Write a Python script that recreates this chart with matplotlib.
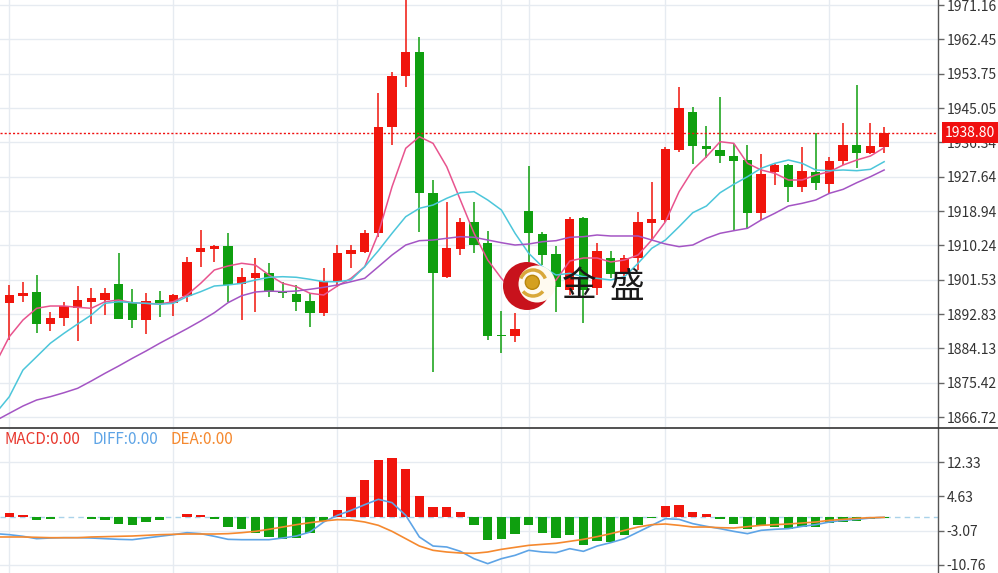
import numpy as np
import matplotlib.pyplot as plt
import matplotlib.transforms as mtransforms
from matplotlib.patches import Circle, Arc
from matplotlib.lines import Line2D

plt.rcParams['font.family'] = ['Noto Sans CJK SC', 'DejaVu Sans']

# K线数据 (第一根只露出一部分)
opens = [1888.78, 1895.70, 1897.47, 1898.41, 1890.22, 1891.74, 1894.43, 1895.95, 1896.38, 1900.44,
         1895.80, 1891.31, 1896.38, 1895.70, 1897.40, 1908.63, 1909.23, 1910.15, 1900.44, 1901.96,
         1903.30, 1898.41, 1897.90, 1896.21, 1893.01, 1901.20, 1908.04, 1908.63, 1913.29, 1940.31,
         1953.16, 1959.17, 1923.58, 1902.14, 1909.23, 1916.23, 1910.75, 1887.51, 1887.33, 1919.02,
         1913.11, 1908.04, 1898.92, 1917.24, 1899.35, 1906.95, 1903.15, 1906.95, 1915.98, 1916.66,
         1934.41, 1944.11, 1935.42, 1934.41, 1932.89, 1931.87, 1918.51, 1928.75, 1930.60, 1924.95,
         1928.91, 1925.79, 1931.69, 1935.67, 1933.57, 1935.24]
highs = [1896.38, 1900.19, 1901.02, 1902.64, 1893.42, 1895.95, 1899.93, 1899.35, 1899.35, 1908.22,
         1899.10, 1898.23, 1898.66, 1897.90, 1907.21, 1914.13, 1910.30, 1913.29, 1904.42, 1907.10,
         1905.69, 1901.02, 1900.19, 1898.08, 1904.57, 1910.32, 1910.32, 1914.13, 1948.78, 1954.25,
         1974.00, 1962.97, 1926.80, 1921.30, 1917.09, 1921.30, 1913.95, 1893.67, 1893.01, 1930.43,
         1913.70, 1910.07, 1917.50, 1917.50, 1910.91, 1908.88, 1907.79, 1918.77, 1926.37, 1935.24,
         1950.30, 1945.38, 1940.49, 1947.92, 1935.93, 1935.67, 1933.39, 1930.80, 1930.86, 1935.09,
         1938.64, 1932.56, 1941.17, 1950.88, 1941.17, 1940.16]
lows = [1887.51, 1886.24, 1895.95, 1888.09, 1888.52, 1889.79, 1886.07, 1890.30, 1892.58, 1891.49,
        1889.36, 1887.69, 1892.00, 1892.40, 1895.95, 1904.82, 1906.09, 1895.95, 1891.31, 1893.34,
        1897.22, 1896.81, 1893.67, 1889.46, 1892.33, 1899.75, 1904.42, 1908.22, 1912.28, 1935.67,
        1950.45, 1913.70, 1878.21, 1902.00, 1907.79, 1908.22, 1886.24, 1882.87, 1885.81, 1906.02,
        1905.25, 1893.42, 1897.65, 1890.63, 1897.65, 1901.88, 1901.45, 1903.99, 1911.59, 1916.23,
        1933.98, 1930.86, 1932.30, 1931.19, 1914.13, 1914.30, 1916.66, 1925.53, 1921.30, 1923.84,
        1924.27, 1923.58, 1930.60, 1929.77, 1933.39, 1933.72]
closes = [1895.12, 1897.65, 1898.08, 1890.30, 1891.90, 1894.86, 1896.38, 1896.81, 1898.23, 1891.57,
          1891.31, 1896.21, 1895.70, 1897.65, 1906.02, 1909.49, 1910.15, 1900.19, 1902.21, 1903.30,
          1898.33, 1898.08, 1895.95, 1893.01, 1901.20, 1908.22, 1909.06, 1913.44, 1940.31, 1953.16,
          1959.17, 1923.43, 1903.15, 1909.49, 1916.23, 1910.32, 1887.26, 1887.26, 1888.95, 1913.29,
          1907.79, 1899.75, 1916.92, 1898.92, 1908.80, 1902.97, 1907.10, 1916.23, 1916.84, 1934.58,
          1944.98, 1935.42, 1934.66, 1932.89, 1931.69, 1918.51, 1928.32, 1930.60, 1924.95, 1929.16,
          1925.97, 1931.69, 1935.67, 1933.57, 1935.50, 1938.80]

ma5 = [1880.33, 1887.08, 1891.31, 1894.28, 1894.86, 1894.86, 1894.53, 1894.28, 1895.95, 1896.38,
       1895.70, 1895.54, 1895.37, 1895.95, 1897.65, 1900.61, 1903.99, 1905.00, 1905.69, 1905.25,
       1902.72, 1900.61, 1899.75, 1898.08, 1897.65, 1899.93, 1901.88, 1904.82, 1913.29, 1925.10,
       1934.84, 1937.78, 1936.10, 1930.17, 1921.73, 1913.29, 1906.52, 1901.88, 1898.00, 1898.40,
       1898.90, 1901.45, 1906.26, 1907.03, 1907.03, 1906.02, 1906.52, 1907.79, 1911.59, 1916.23,
       1923.84, 1929.34, 1932.71, 1936.51, 1936.10, 1931.03, 1929.34, 1928.50, 1926.80, 1926.80,
       1928.07, 1928.91, 1930.60, 1931.87, 1932.89, 1934.99]
ma10 = [1867.66, 1871.87, 1878.64, 1882.01, 1885.41, 1887.94, 1890.30, 1892.58, 1895.54, 1895.95,
        1895.70, 1895.54, 1895.29, 1895.54, 1897.22, 1898.49, 1899.93, 1900.19, 1900.61, 1901.45,
        1902.14, 1902.29, 1902.14, 1901.63, 1901.02, 1901.02, 1901.45, 1904.82, 1908.88, 1913.29,
        1917.50, 1919.63, 1920.46, 1922.16, 1923.58, 1923.84, 1921.73, 1919.20, 1913.29, 1908.22,
        1904.82, 1902.72, 1903.15, 1902.29, 1901.88, 1901.45, 1902.29, 1905.69, 1909.49, 1911.59,
        1914.97, 1918.51, 1920.21, 1923.58, 1925.71, 1927.64, 1929.77, 1931.03, 1931.87, 1931.03,
        1929.34, 1929.16, 1929.34, 1929.16, 1929.51, 1931.44]
ma20 = [1865.79, 1867.66, 1869.51, 1871.03, 1871.87, 1872.88, 1874.00, 1875.85, 1877.80, 1879.65,
        1881.60, 1883.45, 1885.41, 1887.26, 1889.11, 1891.06, 1893.16, 1895.70, 1897.47, 1898.41,
        1898.66, 1898.49, 1898.66, 1899.10, 1899.60, 1900.19, 1901.02, 1901.88, 1904.82, 1907.79,
        1910.32, 1911.42, 1911.59, 1912.02, 1912.43, 1912.28, 1911.59, 1910.91, 1910.32, 1910.58,
        1911.16, 1911.42, 1912.28, 1912.43, 1912.86, 1912.61, 1912.61, 1912.61, 1911.59, 1910.58,
        1909.90, 1910.32, 1912.02, 1913.29, 1913.95, 1914.56, 1916.66, 1918.36, 1920.21, 1920.89,
        1921.73, 1923.43, 1924.44, 1926.12, 1927.64, 1929.34]

macd = [0.90, 0.98, 0.38, -0.60, -0.38, -0.10, -0.10, -0.38, -0.75, -1.50,
        -1.73, -1.13, -0.75, 0.05, 0.75, 0.53, -0.53, -2.26, -2.78, -3.54,
        -4.51, -4.89, -4.74, -3.54, -0.90, 1.66, 4.51, 8.28, 12.79, 13.39,
        10.91, 4.67, 2.26, 2.26, 1.13, -1.88, -5.12, -4.89, -3.76, -1.88,
        -3.61, -4.74, -4.14, -6.25, -5.49, -5.64, -3.99, -1.88, -0.23, 2.41,
        2.78, 1.13, 0.75, -0.53, -1.58, -2.78, -1.88, -2.18, -2.63, -2.26,
        -2.26, -1.28, -1.13, -0.90, -0.38, -0.15]
diff = [-3.76, -3.99, -4.36, -4.89, -4.74, -4.67, -4.67, -4.74, -4.89, -5.04,
        -5.12, -4.74, -4.36, -3.99, -3.54, -3.76, -4.36, -5.04, -5.12, -5.12,
        -5.12, -4.74, -4.29, -3.39, -1.13, 0.38, 1.50, 2.78, 3.99, 3.24,
        0.38, -4.51, -6.55, -6.77, -7.75, -9.41, -10.53, -9.41, -8.65, -7.52,
        -7.90, -8.05, -7.15, -7.75, -6.55, -5.79, -4.89, -3.39, -1.88, -0.38,
        -0.53, -1.50, -2.11, -2.63, -3.24, -3.76, -3.01, -2.78, -2.63, -2.11,
        -1.73, -1.13, -0.75, -0.53, -0.23, -0.08]
dea = [-4.51, -4.51, -4.51, -4.59, -4.67, -4.67, -4.67, -4.51, -4.44, -4.36,
       -4.29, -4.14, -3.99, -3.91, -3.84, -3.84, -3.84, -3.76, -3.54, -3.24,
       -2.78, -2.26, -1.73, -1.28, -0.90, -0.60, -0.68, -1.13, -1.88, -3.24,
       -4.89, -6.55, -7.52, -7.90, -8.13, -8.20, -7.90, -7.30, -6.85, -6.40,
       -6.17, -5.94, -5.49, -5.04, -4.44, -3.76, -3.01, -2.26, -1.73, -1.58,
       -1.88, -2.26, -2.26, -2.41, -2.48, -2.18, -1.88, -1.73, -1.58, -1.35,
       -1.13, -0.75, -0.53, -0.30, -0.15, -0.08]

price_ticks = [1866.72, 1875.42, 1884.13, 1892.83, 1901.53, 1910.24, 1918.94,
               1927.64, 1936.34, 1945.05, 1953.75, 1962.45, 1971.16]
macd_ticks = [12.33, 4.63, -3.07, -10.76]
grid_x = [0, 12, 24, 36, 38, 48, 60]
last_price = 1938.80

up_col = '#f0150c'
down_col = '#0f9f0f'
grid_col = '#e6ebf1'

x = np.arange(len(closes)) - 1

W, H = 998, 573
fig = plt.figure(figsize=(W / 100, H / 100), dpi=100)


def px_box(l, t, r, b):
    return [l / W, 1 - b / H, (r - l) / W, (b - t) / H]


ax1 = fig.add_axes(px_box(0, 0, 938, 427))
ax2 = fig.add_axes(px_box(0, 428, 938, 573))

# 主图
for xi, o, h, l, c in zip(x, opens, highs, lows, closes):
    col = up_col if c >= o else down_col
    ax1.vlines(xi, l, h, color=col, lw=1.1, zorder=3)
    ax1.bar(xi, max(abs(c - o), 0.3), bottom=min(o, c), width=0.68,
            color=col, linewidth=0, zorder=4)

ax1.plot(x, ma5, color='#e8548e', lw=1.1, zorder=5)
ax1.plot(x, ma10, color='#4cc6da', lw=1.1, zorder=5)
ax1.plot(x, ma20, color='#a455c4', lw=1.1, zorder=5)
ax1.axhline(last_price, color='#f01010', lw=1, ls=(0, (1.5, 1.5)), zorder=6)

ax1.set_xlim(-0.68, 67.94)
ax1.set_ylim(1864.19, 1972.43)
ax1.set_yticks(price_ticks)
ax1.set_yticklabels([f'{v:.2f}' for v in price_ticks])
ax1.set_xticks(grid_x)
ax1.set_xticklabels([])

# 副图 MACD
bar_cols = [up_col if v >= 0 else down_col for v in macd]
ax2.axhline(0, color='#a9d2ea', lw=1, ls=(0, (4, 3)), zorder=1)
ax2.bar(x, macd, width=0.68, color=bar_cols, linewidth=0, zorder=3)
ax2.plot(x, diff, color='#5ea4e6', lw=1.2, zorder=4)
ax2.plot(x, dea, color='#f5892f', lw=1.2, zorder=4)
ax2.set_xlim(-0.68, 67.94)
ax2.set_ylim(-12.64, 20.09)
ax2.set_yticks(macd_ticks)
ax2.set_yticklabels([f'{v:.2f}' for v in macd_ticks])
ax2.set_xticks(grid_x)
ax2.set_xticklabels([])

for ax in (ax1, ax2):
    ax.yaxis.tick_right()
    ax.tick_params(axis='y', direction='out', length=4, width=1, color='#666',
                   labelsize=10, labelcolor='#333', pad=2)
    ax.tick_params(axis='x', length=0)
    ax.grid(True, color=grid_col, lw=1, zorder=0)
    ax.set_axisbelow(True)
    for s in ('top', 'left', 'bottom'):
        ax.spines[s].set_visible(False)
    ax.spines['right'].set_color('#555')
    ax.spines['right'].set_linewidth(1)

# 最新价标签
trans = mtransforms.blended_transform_factory(ax1.transAxes, ax1.transData)
ax1.text(1 + 7 / 938, last_price, f'{last_price:.2f}', transform=trans,
         ha='left', va='center', color='white', fontsize=10, zorder=10,
         bbox=dict(boxstyle='square,pad=0.25', facecolor='#f01010', edgecolor='none'))

# 分隔线
fig.add_artist(Line2D([0, 1], [1 - 427.5 / H] * 2, color='#333', lw=1.2))

# MACD 图例
fig.text(5 / W, 1 - 440 / H, 'MACD:0.00', color='#e8382e', fontsize=11, va='center')
fig.text(93 / W, 1 - 440 / H, 'DIFF:0.00', color='#5ea4e6', fontsize=11, va='center')
fig.text(170 / W, 1 - 440 / H, 'DEA:0.00', color='#f5892f', fontsize=11, va='center')

# 水印 logo
tr = fig.dpi_scale_trans
fig.add_artist(Circle((5.27, 2.87), 0.24, transform=tr, facecolor='#c8121c', edgecolor='none', zorder=5))
fig.add_artist(Circle((5.37, 2.89), 0.185, transform=tr, facecolor='#fffaf0', edgecolor='none', zorder=6))
fig.add_artist(Arc((5.33, 2.90), 0.26, 0.26, theta1=20, theta2=160, transform=tr,
                   color='#d9a83a', lw=2.5, zorder=7))
fig.add_artist(Arc((5.33, 2.90), 0.26, 0.26, theta1=220, theta2=320, transform=tr,
                   color='#d9a83a', lw=2.5, zorder=7))
fig.add_artist(Circle((5.323, 2.907), 0.07, transform=tr, facecolor='#d4a020', edgecolor='#b8860b', zorder=8))
fig.text(579 / W, 1 - 287 / H, '金', fontsize=25, color='#1a1a1a', ha='center', va='center', zorder=9)
fig.text(627 / W, 1 - 287 / H, '盛', fontsize=25, color='#1a1a1a', ha='center', va='center', zorder=9)

fig.savefig('out.png', dpi=100)
